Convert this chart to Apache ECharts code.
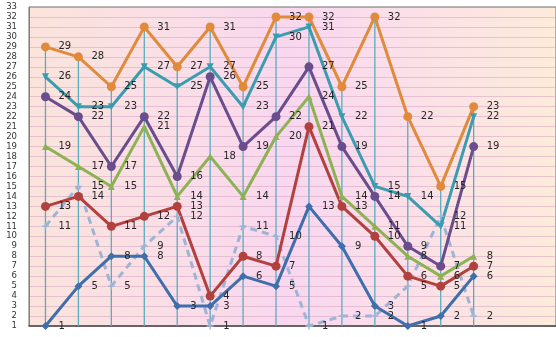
<!DOCTYPE html>
<html>
<head>
<meta charset="utf-8">
<script src="https://cdn.jsdelivr.net/npm/echarts@6/dist/echarts.min.js"></script>
<style>
  html, body { margin: 0; padding: 0; background: #ffffff; }
  #chart { width: 556px; height: 337px; }
</style>
</head>
<body>
<div id="chart"></div>
<script>
// Fourteen points per series, one per category
const categories = ['1', '2', '3', '4', '5', '6', '7', '8', '9', '10', '11', '12', '13', '14'];
// Two empty slots keep the plot running past the last point
const extraSlots = ['', ''];

const orangeValues = [29, 28, 25, 31, 27, 31, 25, 32, 32, 25, 32, 22, 15, 23];
const tealValues   = [26, 23, 23, 27, 25, 27, 23, 30, 31, 22, 15, 14, 11, 22];
const purpleValues = [24, 22, 17, 22, 16, 26, 19, 22, 27, 19, 14, 9, 7, 19];
const greenValues  = [19, 17, 15, 21, 14, 18, 14, 20, 24, 14, 11, 8, 6, 8];
const redValues    = [13, 14, 11, 12, 13, 4, 8, 7, 21, 13, 10, 6, 5, 7];
const blueValues   = [1, 5, 8, 8, 3, 3, 6, 5, 13, 9, 3, 1, 2, 6];
const dashedValues = [11, 15, 5, 9, 12, 1, 11, 10, 1, 2, 2, 5, 12, 2];

const yTicks = { min: 1, max: 33, step: 1 };

const allValues = [orangeValues, tealValues, purpleValues, greenValues, redValues, blueValues, dashedValues];
// drop line from the highest point of each category down to the axis
const dropValues = categories.map((_, i) => Math.max(...allValues.map(s => s[i])));

const labelFont = 'DejaVu Sans';

function lineSeries(name, data, color, symbol, size, extra) {
  return Object.assign({
    name: name,
    type: 'line',
    data: data,
    symbol: symbol,
    symbolSize: size,
    showAllSymbol: true,
    z: 3,
    lineStyle: { color: color, width: 3 },
    itemStyle: { color: color },
    label: {
      show: true,
      position: 'right',
      distance: 13 - size / 2,
      color: '#262626',
      fontFamily: labelFont,
      fontSize: 10
    },
    emphasis: { disabled: true },
    animation: false
  }, extra || {});
}

const plusPath = 'path://M4,0L6,0L6,4L10,4L10,6L6,6L6,10L4,10L4,6L0,6L0,4L4,4Z';

const chart = echarts.init(document.getElementById('chart'), null, { renderer: 'canvas' });
chart.setOption({
  animation: false,
  grid: {
    left: 29, top: 7, bottom: 11, right: -17,
    show: true,
    borderColor: '#6f6f6f',
    borderWidth: 1,
    backgroundColor: new echarts.graphic.LinearGradient(0, 0, 1, 0, [
      { offset: 0, color: '#fbe4dc' },
      { offset: 0.25, color: '#fadfe6' },
      { offset: 0.5, color: '#f9d7ef' },
      { offset: 0.72, color: '#fbe0e8' },
      { offset: 1, color: '#fdebdb' }
    ])
  },
  xAxis: {
    type: 'category',
    data: categories.concat(extraSlots),
    boundaryGap: true,
    axisLine: { show: true, lineStyle: { color: '#4d4d4d', width: 1.5 } },
    axisTick: { show: false },
    axisLabel: { show: false },
    splitLine: { show: false }
  },
  yAxis: {
    type: 'value',
    min: yTicks.min,
    max: yTicks.max,
    interval: yTicks.step,
    axisLine: { show: true, lineStyle: { color: '#808080', width: 1 } },
    axisTick: { show: false },
    axisLabel: {
      color: '#333333',
      fontFamily: labelFont,
      fontSize: 8.5,
      margin: 12
    },
    splitLine: { show: true, lineStyle: { color: 'rgba(205,150,185,0.45)', width: 1 } }
  },
  series: [
    {
      name: 'drop',
      type: 'bar',
      data: dropValues,
      barWidth: 1.3,
      itemStyle: { color: '#58adbd' },
      z: 1,
      silent: true,
      animation: false
    },
    lineSeries('series7', dashedValues, '#9db4d5', plusPath, 7, {
      lineStyle: { color: '#9db4d5', width: 3, type: [7, 5] }
    }),
    lineSeries('series6', blueValues, '#3e6eab', 'diamond', 8),
    lineSeries('series5', redValues, '#b2413e', 'circle', 9),
    lineSeries('series4', greenValues, '#8db254', 'triangle', 7),
    lineSeries('series3', purpleValues, '#6a4d8d', 'circle', 9),
    lineSeries('series2', tealValues, '#3a9daf', 'triangle', 7, { symbolRotate: 180 }),
    lineSeries('series1', orangeValues, '#e08a3b', 'circle', 9)
  ]
});
</script>
</body>
</html>
